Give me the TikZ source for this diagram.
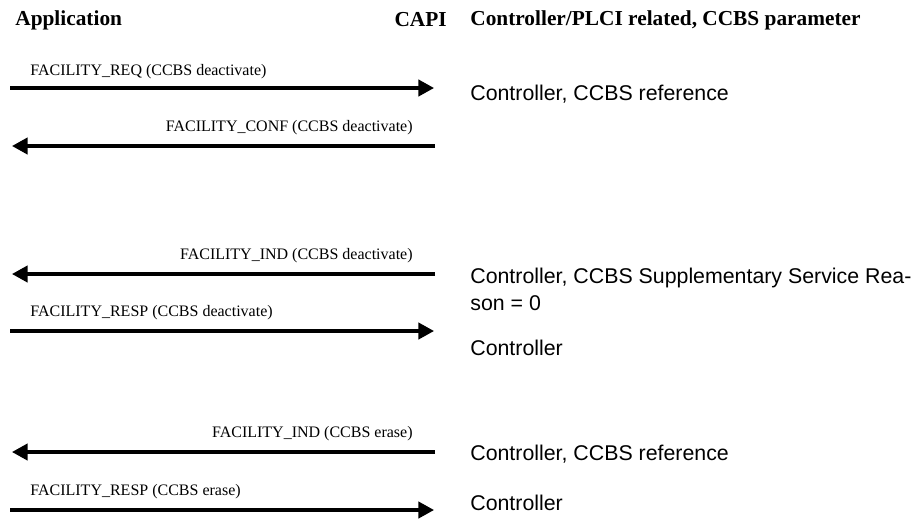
\documentclass[tikz,border=0pt]{standalone}
\usepackage{fontspec}
\setmainfont{Liberation Serif}
\newfontfamily\arialfont{Liberation Sans}
\usetikzlibrary{arrows.meta,positioning}

\begin{document}
\begin{tikzpicture}[
    x=0.5625pt, y=-0.5625pt,
    msg/.style={-{Triangle[length=8.8pt, width=9.2pt]}, line width=1.8pt},
    hdr/.style={font=\bfseries\fontsize{12}{14}\selectfont, inner sep=0pt},
    lbl/.style={font=\fontsize{9}{11}\selectfont, inner sep=0pt},
    parm/.style={font=\arialfont\fontsize{12}{15.2}\selectfont, inner sep=0pt, align=left, anchor=west}
]
\useasboundingbox (0,0) rectangle (914,520);

% headers
\node[hdr, anchor=west] (app) at (15,20) {Application};
\node[hdr, anchor=east] (capi) at (447,20) {CAPI};
\node[hdr, anchor=west] (param) at (470,20) {Controller/PLCI related, CCBS parameter};

% deactivate request / confirmation
\coordinate (a1) at (10,88);
\coordinate (c1) at (434,88);
\draw[msg] (a1) -- (c1);
\node[lbl, anchor=west] (req) at (30,72) {FACILITY\_REQ (CCBS deactivate)};
\node[parm] (req-p) at (470,94) {Controller, CCBS reference};

\coordinate (c2) at (435,146);
\coordinate (a2) at (12,146);
\draw[msg] (c2) -- (a2);
\node[lbl, anchor=east] (conf) at (413,128) {FACILITY\_CONF (CCBS deactivate)};

% deactivate indication / response
\coordinate (c3) at (435,274);
\coordinate (a3) at (12,274);
\draw[msg] (c3) -- (a3);
\node[lbl, anchor=east] (ind) at (413,256) {FACILITY\_IND (CCBS deactivate)};
\node[parm] (ind-p) at (470,289) {Controller, CCBS Supplementary Service Rea-\\son = 0};

\coordinate (a4) at (10,331);
\coordinate (c4) at (434,331);
\draw[msg] (a4) -- (c4);
\node[lbl, anchor=west] (resp) at (30,313) {FACILITY\_RESP (CCBS deactivate)};
\node[parm] (resp-p) at (470,348) {Controller};

% erase indication / response
\coordinate (c5) at (435,452);
\coordinate (a5) at (12,452);
\draw[msg] (c5) -- (a5);
\node[lbl, anchor=east] (ind2) at (413,434) {FACILITY\_IND (CCBS erase)};
\node[parm] (ind2-p) at (470,454) {Controller, CCBS reference};

\coordinate (a6) at (10,510);
\coordinate (c6) at (434,510);
\draw[msg] (a6) -- (c6);
\node[lbl, anchor=west] (resp2) at (30,492) {FACILITY\_RESP (CCBS erase)};
\node[parm] (resp2-p) at (470,503) {Controller};
\end{tikzpicture}
\end{document}
